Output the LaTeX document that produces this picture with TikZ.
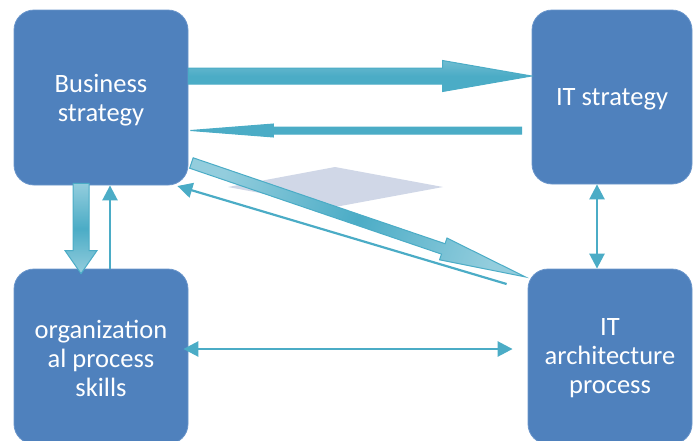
\documentclass[tikz,border=0pt]{standalone}
\usepackage{fontspec}
\setmainfont{Carlito}
\usetikzlibrary{calc,arrows.meta}

\definecolor{boxblue}{HTML}{4F81BD}
\definecolor{boxedge}{HTML}{6B96CB}
\definecolor{arrowteal}{HTML}{4BACC6}
\definecolor{arrowlight}{HTML}{93CDDD}
\definecolor{shadowgrey}{HTML}{D0D7E7}

% Block arrow from #1 to #2: shaft half-width #3, head half-width #4,
% head length #5, drawing options #6
\newcommand\blockarrow[6]{%
  \coordinate (hb) at ($(#2)!#5!(#1)$);
  \path[#6]
    ($(#1)!#3!90:(#2)$) -- ($(hb)!#3!-90:(#1)$) -- ($(hb)!#4!-90:(#1)$)
    -- (#2)
    -- ($(hb)!#4!90:(#1)$) -- ($(hb)!#3!90:(#1)$) -- ($(#1)!#3!-90:(#2)$)
    -- cycle;
}

\tikzset{
  stratbox/.style={rounded corners=20pt, fill=boxblue, draw=boxedge,
    line width=0.8pt, inner sep=0pt},
  strattext/.style={text=white, align=center, inner sep=0pt,
    font=\fontsize{26.5}{29}\selectfont},
  thinlink/.style={draw=arrowteal, line width=2.6pt,
    -{Triangle[length=15pt,width=15pt]}},
  bothlink/.style={draw=arrowteal, line width=2.6pt,
    {Triangle[length=15pt,width=15pt]}-{Triangle[length=15pt,width=15pt]}},
  blockline/.style={draw=arrowteal, line width=1pt, line join=miter}
}

\begin{document}
\begin{tikzpicture}[x=1pt, y=-1pt]
  \useasboundingbox (0,0) rectangle (693,440);
  \clip (0,0) rectangle (693,440);

  % the four boxes
  \node[stratbox, minimum width=174pt, minimum height=175pt] (bs) at (101,97.5) {};
  \node[stratbox, minimum width=160pt, minimum height=174pt] (its) at (612,97) {};
  \node[stratbox, minimum width=174pt, minimum height=175pt] (ops) at (101,356.5) {};
  \node[stratbox, minimum width=164pt, minimum height=175pt] (ita) at (610,356.5) {};

  % their labels
  \node[strattext] (bslabel) at ($(bs.center)+(0,3)$) {Business\\strategy};
  \node[strattext] (itslabel) at ($(its.center)+(0,2)$) {IT strategy};
  \node[strattext] (opslabel) at ($(ops.center)+(0,2)$) {organization\\al process\\skills};
  \node[strattext] (italabel) at ($(ita.center)+(0,2)$) {IT\\architecture\\process};

  % pale diamond behind the diagonal arrows
  \fill[shadowgrey] (228,187) -- (335,167) -- (443,187) -- (335,207) -- cycle;

  % Business -> IT strategy (wide)
  \coordinate (r1s) at ($(bs.east)+(0,-21.5)$);
  \coordinate (r1e) at ($(its.west)+(0,-21)$);
  \blockarrow{r1s}{r1e}{8pt}{15.5pt}{89pt}
    {blockline, top color=arrowteal!80!white, bottom color=arrowteal, middle color=arrowteal}

  % IT strategy -> Business (narrow)
  \coordinate (r2s) at ($(its.west)+(-10,33.5)$);
  \coordinate (r2e) at ($(bs.east)+(2,33)$);
  \blockarrow{r2s}{r2e}{3.5pt}{6.5pt}{83pt}
    {blockline, fill=arrowteal}

  % Business -> IT architecture (wide, diagonal)
  \coordinate (d1s) at ($(bs.east)+(3,65.5)$);
  \coordinate (d1e) at ($(ita.west)+(-2,-79.5)$);
  \blockarrow{d1s}{d1e}{5.5pt}{11.5pt}{87pt}
    {blockline, top color=arrowlight, bottom color=arrowlight,
     middle color=arrowteal, shading angle=71}

  % IT architecture -> Business (thin, diagonal)
  \coordinate (d2s) at ($(ita.west)+(-21,-72.5)$);
  \coordinate (d2e) at ($(bs.east)+(-11,88.5)$);
  \draw[thinlink, line width=2.2pt] (d2s) -- (d2e);

  % Business -> organizational process (wide, vertical)
  \coordinate (v1s) at ($(bs.south)+(-20,-2)$);
  \coordinate (v1e) at ($(ops.north)+(-20,5)$);
  \blockarrow{v1s}{v1e}{8pt}{16pt}{23pt}
    {blockline, top color=arrowlight, bottom color=arrowlight,
     middle color=arrowteal}

  % organizational process -> Business (thin)
  \coordinate (v2s) at ($(ops.north)+(9,0)$);
  \coordinate (v2e) at ($(bs.south)+(9,0)$);
  \draw[thinlink] (v2s) -- (v2e);

  % IT strategy <-> IT architecture
  \coordinate (v3s) at ($(its.south)+(-15,0)$);
  \coordinate (v3e) at ($(ita.north)+(-13,0)$);
  \draw[bothlink] (v3s) -- (v3e);

  % organizational process <-> IT architecture
  \coordinate (h1s) at ($(ops.east)+(-5,-7.5)$);
  \coordinate (h1e) at ($(ita.west)+(-15,-7.5)$);
  \draw[bothlink] (h1s) -- (h1e);
\end{tikzpicture}
\end{document}
